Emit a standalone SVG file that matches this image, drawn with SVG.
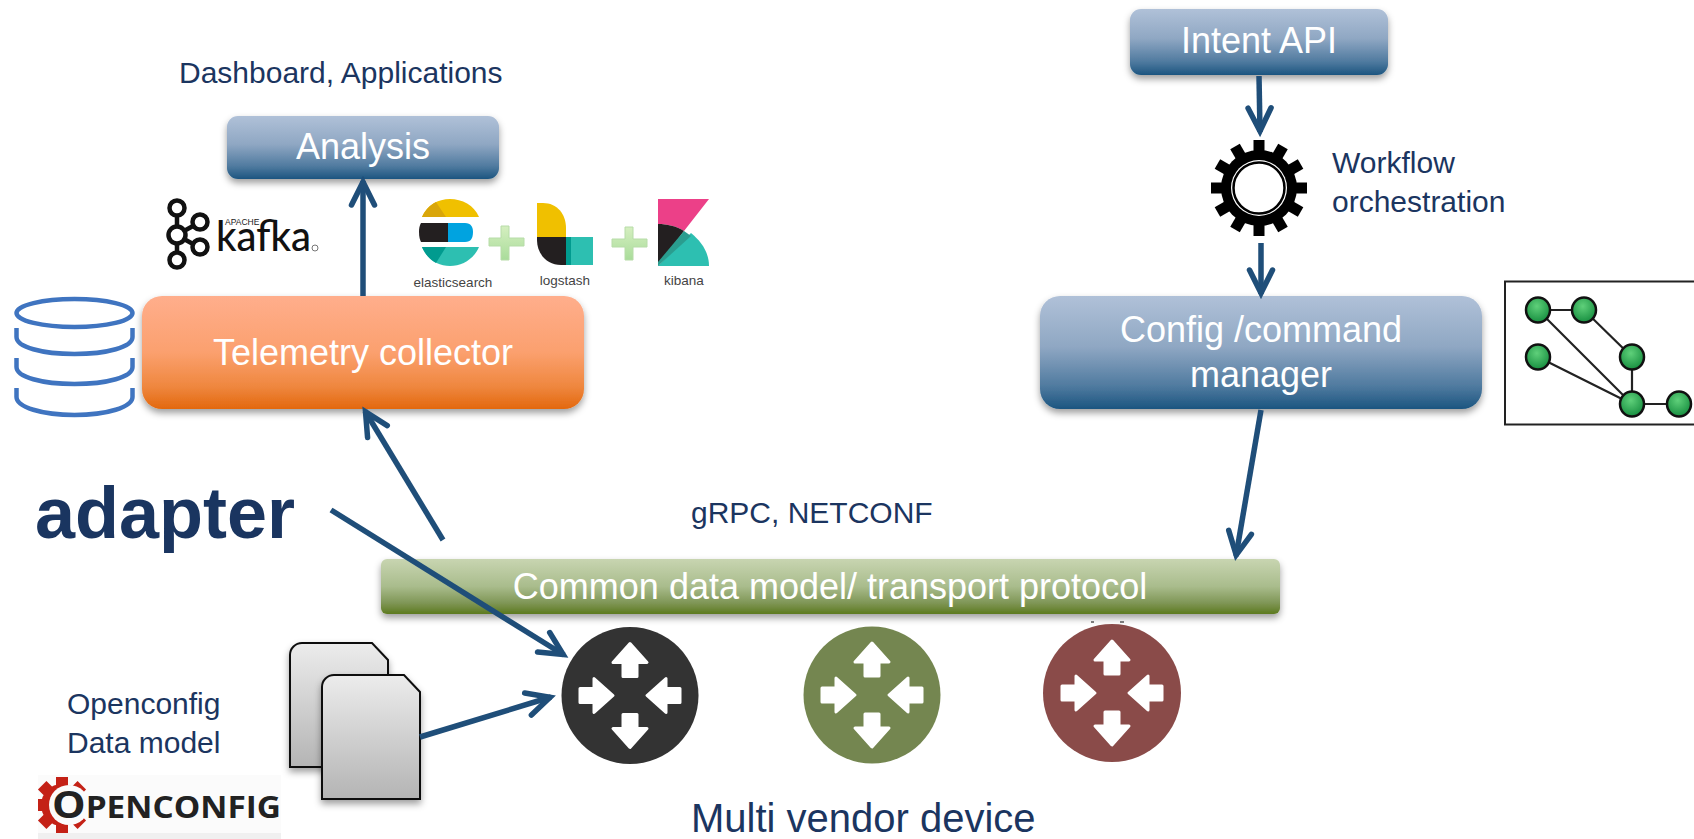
<svg xmlns="http://www.w3.org/2000/svg" xmlns:xlink="http://www.w3.org/1999/xlink" width="1694" height="839" viewBox="0 0 1694 839">
<style>
text{font-family:"Liberation Sans",Arial,sans-serif}
.lbl{font-size:30px;fill:#1b3560}
.box{font-size:36px;fill:#fff;text-anchor:middle}
.conn{fill:none;stroke:#1f4e79;stroke-width:5.5;marker-end:url(#head)}
.small{font-size:13.5px;fill:#444;text-anchor:middle}
.gnode{fill:url(#gnode);stroke:#111;stroke-width:2.5}
.gline{stroke:#222;stroke-width:2.2;fill:none}
.db{fill:none;stroke:#3f74c0;stroke-width:4.5}
.ring{fill:none;stroke:#111;stroke-width:4.5}
</style>
<defs>
<linearGradient id="blue" x1="0" y1="0" x2="0" y2="1"><stop offset="0" stop-color="#b0c1d8"/><stop offset=".45" stop-color="#8fa7c3"/><stop offset=".8" stop-color="#4f7a9f"/><stop offset="1" stop-color="#1b5580"/></linearGradient>
<linearGradient id="orange" x1="0" y1="0" x2="0" y2="1"><stop offset="0" stop-color="#ffae8c"/><stop offset=".5" stop-color="#fba06e"/><stop offset=".8" stop-color="#ef873f"/><stop offset="1" stop-color="#e3680e"/></linearGradient>
<linearGradient id="green" x1="0" y1="0" x2="0" y2="1"><stop offset="0" stop-color="#c8d5b1"/><stop offset=".5" stop-color="#a9bc8c"/><stop offset=".8" stop-color="#7f9656"/><stop offset="1" stop-color="#5d7a1e"/></linearGradient>
<linearGradient id="doc" x1="0" y1="0" x2="0" y2="1"><stop offset="0" stop-color="#ececec"/><stop offset="1" stop-color="#b4b4b4"/></linearGradient>
<radialGradient id="gnode" cx=".45" cy=".35" r=".7"><stop offset="0" stop-color="#5fd07a"/><stop offset="1" stop-color="#128a3c"/></radialGradient>
<linearGradient id="plus" x1="0" y1="0" x2="0" y2="1"><stop offset="0" stop-color="#d5efc0"/><stop offset="1" stop-color="#a9dc9a"/></linearGradient>
<filter id="sh" x="-10%" y="-20%" width="120%" height="150%"><feDropShadow dx="0" dy="4" stdDeviation="3.5" flood-color="#000" flood-opacity=".38"/></filter>
<marker id="head" markerUnits="userSpaceOnUse" markerWidth="40" markerHeight="40" viewBox="-30 -20 40 40" refX="0" refY="0" orient="auto"><path d="M-24,-11.5 L-1,0 L-24,11.5" fill="none" stroke="#1f4e79" stroke-width="5.5" stroke-linecap="round" stroke-linejoin="miter"/></marker>
<path id="arr" d="M0,-52 L17,-33 L7,-33 L7,-19 L-7,-19 L-7,-33 L-17,-33 Z" fill="#fff" stroke="#fff" stroke-width="3" stroke-linejoin="round"/>
<g id="arrows">
<use xlink:href="#arr" href="#arr"/>
<use xlink:href="#arr" href="#arr" transform="rotate(180)"/>
<use xlink:href="#arr" href="#arr" transform="translate(-69,0) rotate(90)"/>
<use xlink:href="#arr" href="#arr" transform="translate(69,0) rotate(-90)"/>
</g>
<rect id="tooth" x="-5.5" y="-48" width="11" height="16" fill="#000"/>
</defs>
<rect width="1694" height="839" fill="#fff"/>

<text class="lbl" x="179" y="83" id="t-dash">Dashboard, Applications</text>

<g id="analysis"><rect x="227" y="116" width="272" height="63" rx="11" fill="url(#blue)" filter="url(#sh)"/><text class="box" x="363" y="159">Analysis</text></g>

<g id="kafka">
<path class="ring" stroke-width="3.5" d="M177,216V227M177,243V252M184,231L193,226M184,239L193,244"/>
<circle class="ring" cx="177" cy="208" r="7.5"/><circle class="ring" cx="200" cy="222" r="7.5"/><circle class="ring" cx="177" cy="235" r="8.5"/><circle class="ring" cx="200" cy="247" r="7.5"/><circle class="ring" cx="177" cy="260" r="7.5"/>
<text x="225" y="225" font-size="8.5" fill="#222" style="font-family:'Liberation Sans',sans-serif">APACHE</text>
<text x="216" y="251" font-size="43" fill="#111" textLength="95" lengthAdjust="spacingAndGlyphs" style="font-family:Lato,sans-serif;font-weight:500">kafka</text>
<circle cx="315" cy="248" r="3" fill="none" stroke="#555" stroke-width=".8"/>
</g>

<g id="elastic">
<path d="M422,217C427,205 438,199 450,199C462,199 474,205 479,217Z" fill="#f0c000"/>
<path d="M422,217C425,210 430,205 436,202L446,217Z" fill="#d9a60a"/>
<path d="M419,232C419,227 420,225 421,223H448V242H421C420,240 419,237 419,232Z" fill="#231f20"/>
<path d="M448,223H465C471,223 473,227 473,232C473,238 471,242 465,242H448Z" fill="#00a3e0"/>
<path d="M422,247H479C474,259 462,266 450,266C438,266 427,259 422,247Z" fill="#2dbfb1"/>
<path d="M422,247H446L436,263C430,260 425,254 422,247Z" fill="#019b8f"/>
<text class="small" x="453" y="287">elasticsearch</text>
</g>
<g id="plus1"><path d="M501,226h8v12h15v8h-15v14h-8v-14h-12v-8h12z" fill="url(#plus)" stroke="#b7dca8"/></g>
<g id="logstash">
<path d="M537,203H543C557,203 566,214 566,228V237H537Z" fill="#f0c000"/>
<path d="M537,237H566V265H561C547,265 537,254 537,240Z" fill="#231f20"/>
<rect x="566" y="237" width="27" height="28" fill="#2dbfb1"/><rect x="566" y="237" width="5" height="28" fill="#019b8f"/>
<text class="small" x="565" y="285">logstash</text>
</g>
<g id="plus2"><path d="M625,227h8v12h14v8h-14v13h-8v-13h-13v-8h13z" fill="url(#plus)" stroke="#b7dca8"/></g>
<g id="kibana">
<path d="M658,199H709L684,231C676,226 667,224 658,224Z" fill="#ec4088"/>
<path d="M658,224C667,224 676,226 684,231L658,266Z" fill="#231f20"/>
<path d="M658,266L691,233C702,242 709,253 709,266Z" fill="#2dbfb1"/>
<path d="M658,266V262L684,231L691,236Z" fill="#2a9d8f"/>
<text class="small" x="684" y="285">kibana</text>
</g>

<g id="database">
<ellipse class="db" cx="74.500" cy="313" rx="58" ry="14"/>
<path class="db" d="M16.500,328V337C16.500,347 42,354 74.500,354S132.500,347 132.500,337V328"/>
<path class="db" d="M16.500,358V367C16.500,377 42,384 74.500,384S132.500,377 132.500,367V358"/>
<path class="db" d="M16.500,388V397C16.500,407 42,415 74.500,415S132.500,407 132.500,397V388"/>
</g>

<g id="telemetry"><rect x="142" y="296" width="442" height="113" rx="20" fill="url(#orange)" filter="url(#sh)"/><text class="box" x="363" y="365">Telemetry collector</text></g>

<g id="intent"><rect x="1130" y="9" width="258" height="66" rx="11" fill="url(#blue)" filter="url(#sh)"/><text class="box" x="1259" y="53">Intent API</text></g>

<g id="gear">
<circle cx="1259" cy="188" r="38" fill="#000"/>
<use xlink:href="#tooth" href="#tooth" transform="translate(1259,188)"/>
<use xlink:href="#tooth" href="#tooth" transform="translate(1259,188) rotate(30)"/>
<use xlink:href="#tooth" href="#tooth" transform="translate(1259,188) rotate(60)"/>
<use xlink:href="#tooth" href="#tooth" transform="translate(1259,188) rotate(90)"/>
<use xlink:href="#tooth" href="#tooth" transform="translate(1259,188) rotate(120)"/>
<use xlink:href="#tooth" href="#tooth" transform="translate(1259,188) rotate(150)"/>
<use xlink:href="#tooth" href="#tooth" transform="translate(1259,188) rotate(180)"/>
<use xlink:href="#tooth" href="#tooth" transform="translate(1259,188) rotate(210)"/>
<use xlink:href="#tooth" href="#tooth" transform="translate(1259,188) rotate(240)"/>
<use xlink:href="#tooth" href="#tooth" transform="translate(1259,188) rotate(270)"/>
<use xlink:href="#tooth" href="#tooth" transform="translate(1259,188) rotate(300)"/>
<use xlink:href="#tooth" href="#tooth" transform="translate(1259,188) rotate(330)"/>
<circle cx="1259" cy="188" r="28" fill="#fff"/>
<circle cx="1259" cy="188" r="25.500" fill="#fff" stroke="#000" stroke-width="2.5"/>
</g>
<g id="t-workflow"><text class="lbl" x="1332" y="173">Workflow</text><text class="lbl" x="1332" y="212">orchestration</text></g>

<g id="config"><rect x="1040" y="296" width="442" height="113" rx="20" fill="url(#blue)" filter="url(#sh)"/><text class="box" x="1261" y="342">Config /command</text><text class="box" x="1261" y="387">manager</text></g>

<g id="topology">
<rect x="1505" y="281.500" width="195" height="143" fill="#fff" stroke="#222" stroke-width="2"/>
<path class="gline" d="M1538,310H1584L1632,357V404H1679M1538,310L1632,404M1538,357L1632,404"/>
<ellipse class="gnode" cx="1538" cy="310" rx="12" ry="12.500"/><ellipse class="gnode" cx="1584" cy="310" rx="12" ry="12.500"/><ellipse class="gnode" cx="1538" cy="357" rx="12" ry="12.500"/><ellipse class="gnode" cx="1632" cy="357" rx="12" ry="12.500"/><ellipse class="gnode" cx="1632" cy="404" rx="12" ry="12.500"/><ellipse class="gnode" cx="1679" cy="404" rx="12" ry="12.500"/>
</g>

<text class="lbl" x="691" y="523" id="t-grpc">gRPC, NETCONF</text>
<text x="35" y="538" font-size="72" font-weight="700" fill="#1a3560" id="t-adapter">adapter</text>

<g id="bus"><rect x="381" y="559" width="899" height="55" rx="6" fill="url(#green)" filter="url(#sh)"/><text class="box" x="830" y="599">Common data model/ transport protocol</text></g>

<g id="router-black"><circle cx="630" cy="695.500" r="68.500" fill="#333"/><use xlink:href="#arrows" href="#arrows" transform="translate(630,695.500)"/></g>
<g id="router-green"><circle cx="872" cy="695" r="68.500" fill="#748650"/><use xlink:href="#arrows" href="#arrows" transform="translate(872,695)"/></g>
<g id="router-red"><path d="M1091,622h3M1120,622h4" stroke="#555" stroke-width="1.500"/><circle cx="1112" cy="693" r="69" fill="#8a4b49"/><use xlink:href="#arrows" href="#arrows" transform="translate(1112,693)"/></g>

<g id="docs">
<path d="M302,643H372L388,660V767H290V655A12,12 0 0 1 302,643Z" fill="url(#doc)" stroke="#111" stroke-width="2" filter="url(#sh)"/>
<path d="M334,675H404L420,692V799H322V687A12,12 0 0 1 334,675Z" fill="url(#doc)" stroke="#111" stroke-width="2" filter="url(#sh)"/>
</g>

<g id="t-openconfig"><text class="lbl" x="67" y="714">Openconfig</text><text class="lbl" x="67" y="753">Data model</text></g>

<g id="openconfig-logo">
<rect x="38" y="775" width="243" height="64" fill="#fbfbfb"/><rect x="38" y="833" width="243" height="6" fill="#f0f0f0"/>
<g fill="#c42116" transform="translate(62,805)">
<circle r="21"/><rect x="-6" y="-28" width="12" height="56"/><rect x="-24" y="-6" width="48" height="12"/><rect x="-6" y="-28" width="12" height="56" transform="rotate(45)"/><rect x="-6" y="-28" width="12" height="56" transform="rotate(-45)"/>
</g>
<circle cx="69" cy="805" r="20" fill="#fbfbfb"/>
<text x="52" y="818" font-size="38" font-weight="700" fill="#222" textLength="229" lengthAdjust="spacingAndGlyphs" style="font-family:'Open Sans',sans-serif"><tspan>O</tspan><tspan font-size="30">PENCONFIG</tspan></text>
</g>

<text x="691" y="832" font-size="40" fill="#1b3560" id="t-multi">Multi vendor device</text>

<g id="connectors">
<path class="conn" d="M1259,76L1260,132"/>
<path class="conn" d="M1261,243V294"/>
<path class="conn" d="M363,296V181"/>
<path class="conn" d="M1261,410L1236,556"/>
<path class="conn" d="M443,540L365,411"/>
<path class="conn" d="M331,510L564,655"/>
<path class="conn" d="M420,737L551,697"/>
</g>
</svg>
